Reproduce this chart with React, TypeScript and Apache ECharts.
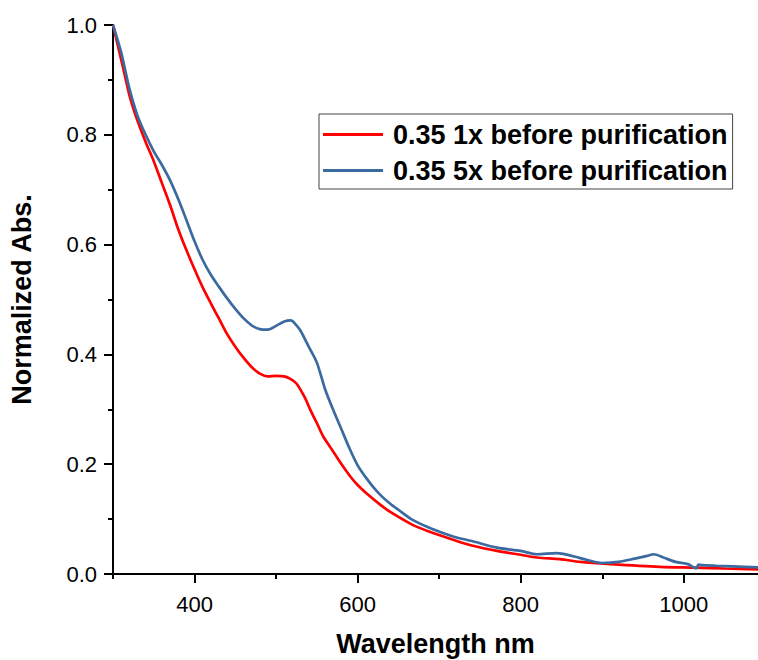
import React, { useEffect, useRef } from "react";
import * as echarts from "echarts";

const seriesNames = ["0.35 1x before purification", "0.35 5x before purification"];
const seriesColors = ["#ff0000", "#3a6aa0"];

const wl1x = [300, 313, 321, 329, 340, 350, 360, 370, 380, 390, 400, 410, 420, 430, 440, 450, 460, 470, 480, 490, 500, 510, 518, 525, 535, 542, 550, 558, 566, 578, 585, 593, 600, 610, 628, 640, 668, 690, 718, 740, 771, 800, 820, 848, 873, 910, 971, 1014, 1050, 1091];
const abs1x = [1.0, 0.918, 0.867, 0.83, 0.787, 0.752, 0.712, 0.672, 0.628, 0.59, 0.555, 0.522, 0.493, 0.465, 0.437, 0.414, 0.394, 0.377, 0.365, 0.36, 0.361, 0.36, 0.355, 0.347, 0.322, 0.299, 0.275, 0.25, 0.232, 0.205, 0.19, 0.174, 0.162, 0.148, 0.126, 0.113, 0.089, 0.076, 0.062, 0.052, 0.042, 0.035, 0.03, 0.027, 0.022, 0.018, 0.013, 0.0115, 0.01, 0.0085];

const wl5x = [300, 310, 320, 330, 340, 350, 360, 370, 380, 390, 400, 410, 420, 430, 440, 450, 460, 470, 480, 490, 500, 510, 518, 525, 530, 540, 550, 560, 570, 580, 590, 600, 610, 620, 630, 640, 650, 668, 690, 718, 740, 771, 800, 820, 844, 873, 900, 920, 940, 955, 963, 975, 990, 1005, 1012, 1015, 1018, 1022, 1040, 1060, 1091];
const abs5x = [1.0, 0.95, 0.885, 0.835, 0.8, 0.77, 0.745, 0.717, 0.683, 0.645, 0.606, 0.572, 0.545, 0.523, 0.502, 0.483, 0.466, 0.453, 0.446, 0.445, 0.452, 0.46, 0.462, 0.453, 0.443, 0.414, 0.385, 0.337, 0.299, 0.264, 0.229, 0.198, 0.176, 0.157, 0.141, 0.128, 0.117, 0.098, 0.083, 0.068, 0.06, 0.048, 0.042, 0.036, 0.038, 0.029, 0.02, 0.022, 0.028, 0.033, 0.036, 0.03, 0.022, 0.018, 0.012, 0.01, 0.017, 0.016, 0.015, 0.014, 0.012];

const xMajorTicks = [400, 600, 800, 1000];
const xMinorTicks = [300, 500, 700, 900];

const FONT = 'Arial, "Liberation Sans", sans-serif';

export default function App() {
  const ref = useRef<HTMLDivElement>(null);
  useEffect(() => {
    if (!ref.current) return;
    const chart = echarts.init(ref.current, null, { renderer: "svg" });
    const gridPos = { left: 113, top: 25, right: 0, bottom: 86, outerBoundsMode: "none", containLabel: false };
    const axisLineStyle = { color: "#000", width: 2 };
    chart.setOption({
      animation: false,
      backgroundColor: "#fff",
      grid: [gridPos, gridPos],
      legend: {
        left: 319,
        top: 114,
        orient: "vertical",
        padding: [7, 5, 5, 4],
        itemGap: 9,
        itemWidth: 60,
        itemHeight: 3,
        icon: "rect",
        borderColor: "#444",
        borderWidth: 1,
        data: seriesNames,
        textStyle: { fontFamily: FONT, fontSize: 27, fontWeight: "bold", color: "#000", padding: [0, 0, 0, 5] },
      },
      xAxis: [
        {
          type: "value",
          gridIndex: 0,
          min: 300,
          max: 1091,
          name: "Wavelength nm",
          nameLocation: "middle",
          nameGap: 56,
          nameTextStyle: { fontFamily: FONT, fontSize: 27, fontWeight: "bold", color: "#000" },
          axisLine: { show: true, onZero: false, lineStyle: axisLineStyle },
          axisTick: { show: true, inside: false, length: 9, customValues: xMajorTicks, lineStyle: { color: "#000", width: 2 } },
          axisLabel: { show: true, customValues: xMajorTicks, margin: 19, fontFamily: FONT, fontSize: 22, color: "#000", formatter: (v: number) => String(v) },
          splitLine: { show: false },
        },
        {
          type: "value",
          gridIndex: 1,
          min: 300,
          max: 1091,
          axisLine: { show: false },
          axisTick: { show: true, inside: false, length: 5, customValues: xMinorTicks, lineStyle: { color: "#000", width: 2 } },
          axisLabel: { show: false },
          splitLine: { show: false },
        },
      ],
      yAxis: [
        {
          type: "value",
          gridIndex: 0,
          min: 0,
          max: 1,
          interval: 0.2,
          name: "Normalized Abs.",
          nameLocation: "middle",
          nameGap: 78,
          nameTextStyle: { fontFamily: FONT, fontSize: 27, fontWeight: "bold", color: "#000" },
          axisLine: { show: true, onZero: false, lineStyle: axisLineStyle },
          axisTick: { show: true, inside: false, length: 9, lineStyle: { color: "#000", width: 2 } },
          minorTick: { show: true, splitNumber: 2, length: 5, lineStyle: { color: "#000", width: 2 } },
          axisLabel: { margin: 16, fontFamily: FONT, fontSize: 22, color: "#000", formatter: (v: number) => v.toFixed(1) },
          splitLine: { show: false },
          minorSplitLine: { show: false },
        },
        {
          type: "value",
          gridIndex: 1,
          min: 0,
          max: 1,
          show: false,
        },
      ],
      series: [
        {
          name: seriesNames[0],
          type: "line",
          xAxisIndex: 0,
          yAxisIndex: 0,
          data: wl1x.map((x, i) => [x, abs1x[i]]),
          symbol: "none",
          smooth: 0.3,
          lineStyle: { color: seriesColors[0], width: 2.7 },
          itemStyle: { color: seriesColors[0] },
        },
        {
          name: seriesNames[1],
          type: "line",
          xAxisIndex: 0,
          yAxisIndex: 0,
          data: wl5x.map((x, i) => [x, abs5x[i]]),
          symbol: "none",
          smooth: 0.3,
          lineStyle: { color: seriesColors[1], width: 2.7 },
          itemStyle: { color: seriesColors[1] },
        },
      ],
    });
    return () => chart.dispose();
  }, []);
  return <div ref={ref} style={{ position: "absolute", left: 0, top: 0, width: 758, height: 660 }} />;
}
